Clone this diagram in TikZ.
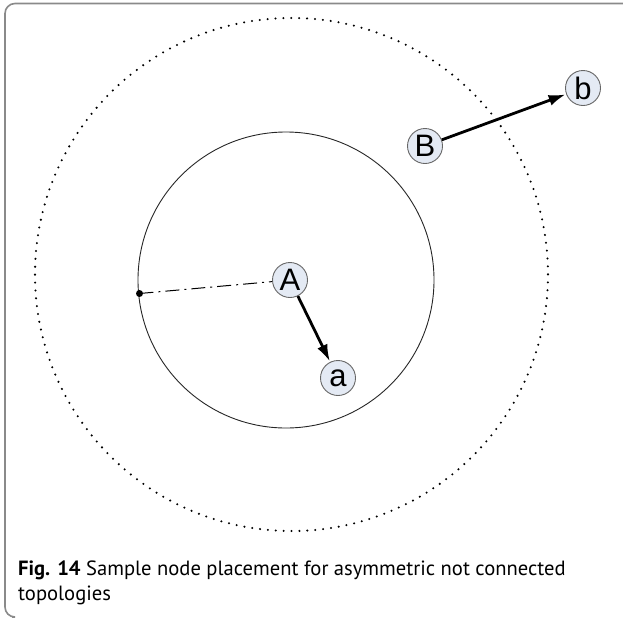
\documentclass[tikz,border=0pt]{standalone}
\usepackage{fontspec}
\setmainfont{PT Sans}
\newfontfamily\nodefont{Liberation Sans}
\usetikzlibrary{arrows.meta}
\definecolor{nodefill}{HTML}{E4EAF4}
\definecolor{framegray}{HTML}{8A8A8A}
\tikzset{
  pnode/.style={circle, draw=black!60, line width=0.9pt, fill=nodefill, minimum size=35pt, inner sep=0pt, font=\nodefont\fontsize{31}{31}\selectfont},
  parrow/.style={line width=2.8pt, -{Latex[length=17pt,width=11pt]}, shorten >=0.5pt},
}
\begin{document}
\begin{tikzpicture}[x=1pt,y=-1pt]
\useasboundingbox (0,0) rectangle (623,619);
% frame
\draw[framegray, line width=1.6pt] (623,3.5) -- (15,3.5) arc[start angle=270, end angle=180, radius=10] -- (5,607) arc[start angle=180,end angle=90,radius=10] -- (12,617);
% outer dotted circle
\draw[black, line width=2.3pt, line cap=round, dash pattern=on 0pt off 7.9pt] (291.5,274.5) circle[radius=256.5];
% inner circle
\draw[black!85, line width=0.9pt] (286,280) circle[radius=148];
% nodes
\node[pnode] (A) at (290,280) {A};
\node[pnode] (a) at (338,378) {a};
\node[pnode] (B) at (425,146) {B};
\node[pnode] (b) at (583,88) {b};
\coordinate (p) at (139.5,293.5);
\fill (p) circle[radius=3.5];
\draw[line width=1pt, dash pattern=on 14pt off 5pt on 2pt off 5pt] (p) -- (A);
\draw[parrow] (A) -- (a);
\draw[parrow] (B) -- (b);
% caption
\node[anchor=base west, inner sep=0pt, font=\fontsize{20.6}{25}\selectfont] (cap1) at (18,575) {\textbf{Fig. 14} Sample node placement for asymmetric not connected};
\node[anchor=base west, inner sep=0pt, font=\fontsize{20.6}{25}\selectfont] (cap2) at (18,600) {topologies};
\end{tikzpicture}
\end{document}
